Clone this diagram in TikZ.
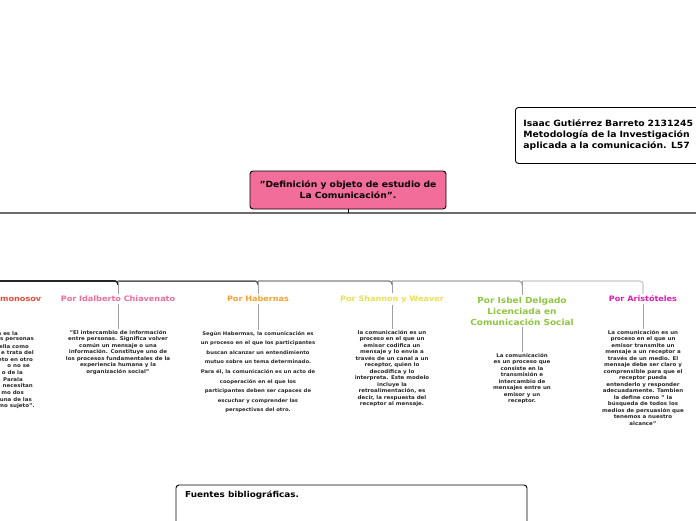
\documentclass[tikz,border=0pt]{standalone}
\usepackage{fontspec}
\setmainfont[FakeStretch=1.08]{DejaVu Sans}
\usetikzlibrary{positioning}
\definecolor{titlepink}{HTML}{F26D9A}
\definecolor{lomored}{HTML}{E94B3C}
\definecolor{chiavpink}{HTML}{F06C9B}
\definecolor{haberorange}{HTML}{F7A030}
\definecolor{shannonyellow}{HTML}{E8DF55}
\definecolor{isbelgreen}{HTML}{8DC63F}
\definecolor{aristomagenta}{HTML}{DD1DB2}

\begin{document}
\begin{tikzpicture}[x=1pt,y=-1pt]
  \tikzset{
    every node/.style={inner sep=2pt},
    box/.style={draw=black, rounded corners=3pt, line width=0.9pt},
    head/.style={font=\fontsize{7.5}{8.5}\selectfont\bfseries, align=center},
    desc/.style={font=\fontsize{5.1}{6.5}\selectfont\bfseries, align=center,
                 anchor=north, text=black!85, inner sep=1pt},
    stem/.style={draw=gray!75, line width=1pt},
  }
  \useasboundingbox (0,0) rectangle (696,520);

  % title and author
  \node[box, fill=titlepink, minimum width=196pt, minimum height=38pt, align=center,
        font=\fontsize{8.5}{11}\selectfont\bfseries] (titulo) at (348,190)
        {"Definición y objeto de estudio de\\La Comunicación".};
  \node[box, anchor=north west, minimum height=56pt, text width=178pt, inner xsep=8pt,
        align=left, font=\fontsize{8.6}{11}\selectfont\bfseries] (autor) at (515,107)
        {Isaac Gutiérrez Barreto 2131245\\Metodología de la Investigación\\aplicada a la comunicación. L57};

  % upper bus
  \coordinate (busA) at (348,213);
  \draw[draw=gray!85!black, line width=1.2pt] (0,213) -- (696,213);
  \draw[line width=0.8pt] (titulo.south) -- (busA);

  % headings
  \node[head, text=lomored, anchor=west, inner sep=0pt] (lomo) at (0,299) {monosov};
  \node[head, text=chiavpink] (chiav) at (118,299) {Por Idalberto Chiavenato};
  \node[head, text=haberorange] (haber) at (258,299) {Por Habernas};
  \node[head, text=shannonyellow] (shannon) at (392,299) {Por Shannon y Weaver};
  \node[head, text=isbelgreen, font=\fontsize{8.3}{11}\selectfont\bfseries] (isbel) at (522,311)
        {Por Isbel Delgado\\Licenciada en\\Comunicación Social};
  \node[head, text=aristomagenta] (aris) at (643,299) {Por Aristóteles};

  % lower bus
  \coordinate (b0) at (0,281);
  \coordinate (b1) at (118,281);
  \coordinate (b2) at (258,281);
  \coordinate (b3) at (392,281);
  \coordinate (b4) at (522,281);
  \coordinate (b5) at (643,281);
  \draw[draw=black!85, line width=1.7pt, rounded corners=3pt] (b0) -- (b1) -- ++(0,4);
  \draw[draw=black!65, line width=1.5pt, rounded corners=3pt] (b1) -- (b2) -- ++(0,4);
  \draw[draw=black!50, line width=1.3pt, rounded corners=3pt] (b2) -- (b3) -- ++(0,4);
  \draw[draw=black!35, line width=1.2pt, rounded corners=3pt] (b3) -- (b4) -- ++(0,4);
  \draw[draw=black!22, line width=1.1pt, rounded corners=3pt] (b4) -- (b5) -- (aris.north);
  \draw[stem] (b1) -- (chiav.north);
  \draw[stem] (b2) -- (haber.north);
  \draw[stem] (b3) -- (shannon.north);
  \draw[stem] (b4) -- (isbel.north);

  % texts
  \foreach \frag/\xr [count=\i] in {ción es la/19, s personas/35, ella como/30,
      e trata del/35, eto en otro/34, o no se/31, o de la/24, Parala/24,
      necesitan/34, mo dos/25, una de las/33, {mo sujeto".}/36}
    \node[desc, anchor=east] (lomotxt\i) at (\xr,326.5+6.6*\i) {\frag};

  \node[desc] (chiavtxt) at (118,329)
    {"El intercambio de información\\entre personas. Significa volver\\común un mensaje o una\\información. Constituye uno de\\los procesos fundamentales de la\\experiencia humana y la\\organización social"};
  \node[desc, font=\fontsize{4.9}{9.6}\selectfont\bfseries] (habertxt) at (258,330)
    {Según Habermas, la comunicación es\\un proceso en el que los participantes\\buscan alcanzar un entendimiento\\mutuo sobre un tema determinado.\\Para él, la comunicación es un acto de\\cooperación en el que los\\participantes deben ser capaces de\\escuchar y comprender las\\perspectivas del otro.};
  \node[desc] (shannontxt) at (392,329)
    {la comunicación es un\\proceso en el que un\\emisor codifica un\\mensaje y lo envía a\\través de un canal a un\\receptor, quien lo\\decodifica y lo\\interpreta. Este modelo\\incluye la\\retroalimentación, es\\decir, la respuesta del\\receptor al mensaje.};
  \node[desc] (isbeltxt) at (522,352)
    {La comunicación\\es un proceso que\\consiste en la\\transmisión e\\intercambio de\\mensajes entre un\\emisor y un\\receptor.};
  \node[desc] (aristxt) at (643,329)
    {La comunicación es un\\proceso en el que un\\emisor transmite un\\mensaje a un receptor a\\través de un medio. El\\mensaje debe ser claro y\\comprensible para que el\\receptor pueda\\entenderlo y responder\\adecuadamente. Tambien\\la define como " la\\búsqueda de todos los\\medios de persuasión que\\tenemos a nuestro\\alcance"};

  \draw[stem] (chiav.south) -- (chiavtxt.north);
  \draw[stem] (haber.south) -- (habertxt.north);
  \draw[stem] (shannon.south) -- (shannontxt.north);
  \draw[stem] (isbel.south) -- (isbeltxt.north);
  \draw[stem] (aris.south) -- (aristxt.north);

  % sources
  \draw[box] (176,485) rectangle (527,545);
  \node[anchor=west, font=\fontsize{8.2}{9}\selectfont\bfseries] (fuentes) at (183,495)
    {Fuentes bibliográficas.};
\end{tikzpicture}
\end{document}
